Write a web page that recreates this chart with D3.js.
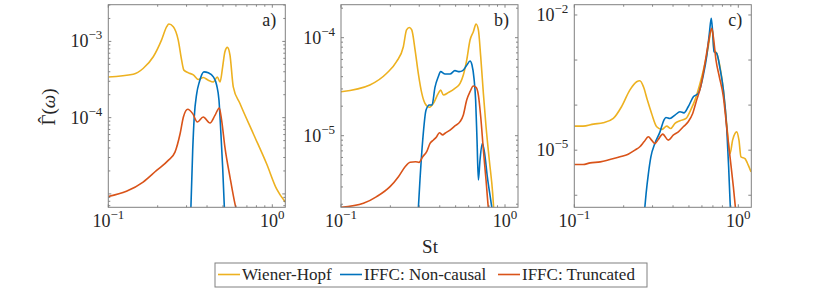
<!DOCTYPE html>
<html>
<head>
<meta charset="utf-8">
<script src="https://cdn.jsdelivr.net/npm/d3@7"></script>
<style>
body { margin: 0; background: #fff; }
svg { display: block; }
text { font-family: "Liberation Serif", "Times New Roman", serif; fill: #262626; }
</style>
</head>
<body>
<div id="chart"></div>
<script>
// panel a) -- St and Gamma-hat for each method
var aSt_wh = [0.1,0.142,0.163,0.188,0.211,0.227,0.234,0.249,0.267,0.280,0.289,0.308,0.330,0.354,0.379,0.407,0.437,0.462,0.480,0.498,0.514,0.532,0.552,0.578,0.635,0.766,0.923,1.062,1.2];
var aG_wh  = [3.42e-4,3.71e-4,4.41e-4,6.29e-4,1.04e-3,1.56e-3,1.69e-3,1.56e-3,1.04e-3,5.68e-4,4.20e-4,3.87e-4,3.64e-4,3.16e-4,3.36e-4,3.10e-4,2.94e-4,3.42e-4,2.94e-4,4.65e-4,7.31e-4,8.34e-4,6.61e-4,2.54e-4,1.53e-4,6.15e-5,2.48e-5,1.16e-5,7.8e-6];
var aSt_nc = [0.318,0.327,0.334,0.346,0.359,0.383,0.407,0.437,0.458,0.473,0.486,0.498,0.512];
var aG_nc  = [5.46e-6,3.71e-5,1e-4,2.07e-4,2.94e-4,3.99e-4,3.87e-4,3.42e-4,2.66e-4,1.69e-4,6.15e-5,2.24e-5,5.46e-6];
var aSt_tr = [0.1,0.129,0.163,0.197,0.232,0.255,0.274,0.287,0.305,0.327,0.349,0.379,0.417,0.447,0.475,0.491,0.514,0.552,0.592,0.612];
var aG_tr  = [9.23e-6,1.08e-5,1.43e-5,2.03e-5,2.75e-5,3.53e-5,6.15e-5,1.02e-4,1.29e-4,1.13e-4,8.77e-5,1.02e-4,8.51e-5,1.07e-4,1.34e-4,9.22e-5,4.11e-5,1.66e-5,7.38e-6,5.46e-6];

// panel b)
var bSt_wh = [0.1,0.150,0.190,0.218,0.240,0.251,0.261,0.270,0.283,0.296,0.311,0.325,0.346,0.366,0.392,0.405,0.421,0.451,0.495,0.532,0.557,0.584,0.612,0.641,0.666,0.688,0.711,0.738,0.766,0.802,0.841,0.857];
var bG_wh  = [2.81e-5,3.29e-5,4.33e-5,5.69e-5,8.09e-5,1.20e-4,1.27e-4,1.20e-4,7.48e-5,4.33e-5,2.70e-5,2.14e-5,1.95e-5,2.14e-5,2.70e-5,2.92e-5,2.60e-5,2.75e-5,3.04e-5,3.42e-5,4.16e-5,5.91e-5,9.47e-5,1.15e-4,1.38e-4,1.20e-4,6.40e-5,2.70e-5,1.24e-5,5.65e-6,2.58e-6,1.61e-6];
var bSt_nc = [0.295,0.303,0.315,0.330,0.346,0.359,0.374,0.392,0.405,0.431,0.462,0.495,0.527,0.552,0.584,0.612,0.629,0.647,0.662,0.675,0.688,0.704,0.727,0.751,0.780,0.818,0.841];
var bG_nc  = [1.61e-6,3.53e-6,9.03e-6,1.83e-5,2.06e-5,2.06e-5,3.11e-5,4.00e-5,4.50e-5,4.26e-5,4.26e-5,4.61e-5,4.50e-5,4.61e-5,5.22e-5,5.78e-5,5.26e-5,3.85e-5,2.31e-5,9.03e-6,3.53e-6,5.65e-6,8.35e-6,6.61e-6,3.82e-6,2.21e-6,1.61e-6];
var bSt_tr = [0.1,0.137,0.165,0.199,0.224,0.246,0.264,0.285,0.299,0.315,0.333,0.349,0.366,0.383,0.398,0.417,0.431,0.462,0.495,0.532,0.557,0.584,0.612,0.641,0.666,0.688,0.711,0.738,0.766,0.791,0.80];
var bG_tr  = [1.86e-6,2.04e-6,2.39e-6,3.02e-6,3.82e-6,4.83e-6,5.35e-6,5.43e-6,5.35e-6,6.11e-6,6.87e-6,8.35e-6,9.03e-6,9.77e-6,1.07e-5,1.02e-5,1.06e-5,1.14e-5,1.26e-5,1.39e-5,1.63e-5,2.31e-5,2.81e-5,3.21e-5,3.11e-5,2.60e-5,1.56e-5,7.14e-6,3.53e-6,1.86e-6,1.61e-6];

// panel c)
var cSt_wh = [0.1,0.113,0.131,0.150,0.173,0.194,0.218,0.240,0.251,0.264,0.279,0.296,0.318,0.341,0.366,0.387,0.411,0.441,0.480,0.512,0.544,0.584,0.626,0.656,0.678,0.694,0.711,0.738,0.773,0.811,0.849,0.890,0.923,0.955,0.977,1.009,1.038,1.098,1.150,1.195];
var cG_wh  = [3.41e-5,3.41e-5,3.79e-5,4.04e-5,5.06e-5,9.19e-5,2.15e-4,3.30e-4,3.47e-4,2.55e-4,1.29e-4,6.53e-5,3.30e-5,2.88e-5,3.41e-5,3.03e-5,3.92e-5,4.49e-5,5.06e-5,7.75e-5,1.29e-4,3.03e-4,8.43e-4,1.98e-3,4.26e-3,5.06e-3,1.67e-3,1.41e-3,7.11e-4,2.15e-4,3.92e-5,8.43e-6,1.67e-5,2.35e-5,2.55e-5,1.67e-5,7.11e-6,6.53e-6,4.65e-6,3.30e-6];
var cSt_nc = [0.267,0.274,0.283,0.293,0.310,0.333,0.352,0.362,0.383,0.411,0.441,0.466,0.495,0.532,0.570,0.612,0.641,0.666,0.684,0.697,0.711,0.738,0.773,0.811,0.849,0.873,0.890,0.898];
var cG_nc  = [3.92e-7,1.09e-6,3.03e-6,7.11e-6,1.41e-5,2.55e-5,4.64e-5,5.32e-5,5.06e-5,6.00e-5,7.11e-5,6.73e-5,9.19e-5,1.53e-4,1.82e-4,4.64e-4,1.19e-3,3.92e-3,8.43e-3,4.26e-3,1.53e-3,1.41e-3,6.53e-4,2.15e-4,3.30e-5,4.26e-6,7.74e-7,3.92e-7];
var cSt_tr = [0.1,0.113,0.125,0.144,0.165,0.190,0.213,0.234,0.251,0.266,0.283,0.296,0.310,0.325,0.346,0.374,0.401,0.431,0.462,0.495,0.527,0.557,0.589,0.626,0.656,0.688,0.704,0.731,0.766,0.811,0.849,0.890,0.933,0.968];
var cG_tr  = [4.80e-6,4.80e-6,5.23e-6,5.51e-6,6.21e-6,7.11e-6,8.15e-6,1.0e-5,1.19e-5,1.53e-5,1.98e-5,1.67e-5,1.41e-5,1.73e-5,2.27e-5,1.67e-5,2.15e-5,2.55e-5,3.30e-5,4.26e-5,6.53e-5,1.29e-4,2.55e-4,8.43e-4,2.34e-3,5.06e-3,3.30e-3,1.0e-3,4.26e-4,1.53e-4,3.30e-5,7.11e-6,1.53e-6,3.92e-7];

// tick labels
var xTicks = [0.1, 1];
var yTicksA = [1e-3, 1e-4];
var yTicksB = [1e-4, 1e-5];
var yTicksC = [1e-2, 1e-5];

var seriesNames = ["Wiener-Hopf", "IFFC: Non-causal", "IFFC: Truncated"];
var colors = ["#EDB120", "#0072BD", "#D95319"];

var W = 830, H = 293;
var svg = d3.select("#chart").append("svg")
  .attr("width", W).attr("height", H);

var panels = [
  { label: "a)", left: 108.3, dom: [6.67e-6, 3.03e-3], ticks: yTicksA, minorStep: true,
    st: [aSt_wh, aSt_nc, aSt_tr], g: [aG_wh, aG_nc, aG_tr] },
  { label: "b)", left: 341, dom: [1.86e-6, 2.17e-4], ticks: yTicksB, minorStep: true,
    st: [bSt_wh, bSt_nc, bSt_tr], g: [bG_wh, bG_nc, bG_tr] },
  { label: "c)", left: 574.3, dom: [5.4e-7, 1.69e-2], ticks: yTicksC, minorStep: false,
    st: [cSt_wh, cSt_nc, cSt_tr], g: [cG_wh, cG_nc, cG_tr] }
];
var pw = 177, plotTop = 4.7, plotBottom = 207.3;

function sup(sel, v) {
  var e = Math.round(Math.log10(v));
  sel.text("10");
  sel.append("tspan").attr("dy", -8).attr("font-size", 13).text(e < 0 ? "\u2212" + (-e) : e);
}

panels.forEach(function(p, i) {
  var x = d3.scaleLog().domain([0.1, 1.2]).range([p.left, p.left + pw]);
  var y = d3.scaleLog().domain(p.dom).range([plotBottom, plotTop]);
  var g = svg.append("g");

  g.append("clipPath").attr("id", "clip" + i)
    .append("rect").attr("x", p.left).attr("y", plotTop).attr("width", pw).attr("height", plotBottom - plotTop);

  // curves
  var line = d3.line().curve(d3.curveMonotoneX)
    .x(function(d) { return x(d[0]); }).y(function(d) { return y(d[1]); });
  [0, 1, 2].forEach(function(k) {
    var pts = p.st[k].map(function(s, j) { return [s, p.g[k][j]]; });
    g.append("path").datum(pts)
      .attr("clip-path", "url(#clip" + i + ")")
      .attr("d", line)
      .attr("fill", "none")
      .attr("stroke", colors[k])
      .attr("stroke-width", 1.6)
      .attr("stroke-linejoin", "round");
  });

  // ticks (inward, all four sides)
  var xt = [];
  [0.1, 1].forEach(function(dec) {
    for (var m = 1; m < 10; m++) { var v = dec * m; if (v >= 0.1 && v <= 1.2) xt.push([v, m === 1]); }
  });
  xt.forEach(function(t) {
    var len = t[1] ? 3 : 2;
    g.append("line").attr("x1", x(t[0])).attr("x2", x(t[0])).attr("y1", plotBottom).attr("y2", plotBottom - len)
      .attr("stroke", "#666").attr("stroke-width", 0.8);
    g.append("line").attr("x1", x(t[0])).attr("x2", x(t[0])).attr("y1", plotTop).attr("y2", plotTop + len)
      .attr("stroke", "#666").attr("stroke-width", 0.8);
  });
  var yt = [];
  for (var e = -7; e <= -1; e++) {
    var dec = Math.pow(10, e);
    for (var m = 1; m < 10; m++) {
      if (!p.minorStep && m > 1) continue;
      var v = dec * m;
      if (v >= p.dom[0] && v <= p.dom[1]) yt.push([v, m === 1]);
    }
  }
  yt.forEach(function(t) {
    var len = t[1] ? 3 : 2;
    g.append("line").attr("x1", p.left).attr("x2", p.left + len).attr("y1", y(t[0])).attr("y2", y(t[0]))
      .attr("stroke", "#666").attr("stroke-width", 0.8);
    g.append("line").attr("x1", p.left + pw).attr("x2", p.left + pw - len).attr("y1", y(t[0])).attr("y2", y(t[0]))
      .attr("stroke", "#666").attr("stroke-width", 0.8);
  });

  // box
  g.append("rect").attr("x", p.left).attr("y", plotTop).attr("width", pw).attr("height", plotBottom - plotTop)
    .attr("fill", "none").attr("stroke", "#808080").attr("stroke-width", 1);

  // tick labels
  xTicks.forEach(function(v) {
    g.append("text").attr("x", x(v)).attr("y", 227).attr("text-anchor", "middle")
      .attr("font-size", 18).call(sup, v);
  });
  p.ticks.forEach(function(v) {
    g.append("text").attr("x", p.left - 6).attr("y", y(v) + 6).attr("text-anchor", "end")
      .attr("font-size", 18).call(sup, v);
  });

  g.append("text").attr("x", p.left + pw - 9).attr("y", 26).attr("text-anchor", "end")
    .attr("font-size", 18).text(p.label);
});

// axis titles
svg.append("text").attr("x", 430).attr("y", 253).attr("text-anchor", "middle")
  .attr("font-size", 19).text("St");

// y title: Gamma with a hat placed over it by hand
var yl = svg.append("g").attr("transform", "translate(55,107) rotate(-90)");
var ylt = yl.append("text").attr("font-size", 19);
ylt.append("tspan").attr("class", "gam").text("\u0393");
ylt.append("tspan").text("(");
ylt.append("tspan").attr("font-style", "italic").text("\u03c9");
ylt.append("tspan").text(")");
var ylw = ylt.node().getComputedTextLength();
ylt.attr("x", -ylw / 2);
var gw = ylt.select(".gam").node().getComputedTextLength();
yl.append("text").attr("x", -ylw / 2 + gw / 2).attr("y", -4).attr("text-anchor", "middle")
  .attr("font-size", 19).text("\u02c6");

// legend
var lg = svg.append("g");
lg.append("rect").attr("x", 215).attr("y", 263).attr("width", 432).attr("height", 24)
  .attr("fill", "#fff").attr("stroke", "#808080").attr("stroke-width", 1);
var lx = [218, 340, 498];
seriesNames.forEach(function(n, k) {
  lg.append("line").attr("x1", lx[k]).attr("x2", lx[k] + 22).attr("y1", 274.5).attr("y2", 274.5)
    .attr("stroke", colors[k]).attr("stroke-width", 1.6);
  lg.append("text").attr("x", lx[k] + 24).attr("y", 280).attr("font-size", 17).text(n);
});
</script>
</body>
</html>
